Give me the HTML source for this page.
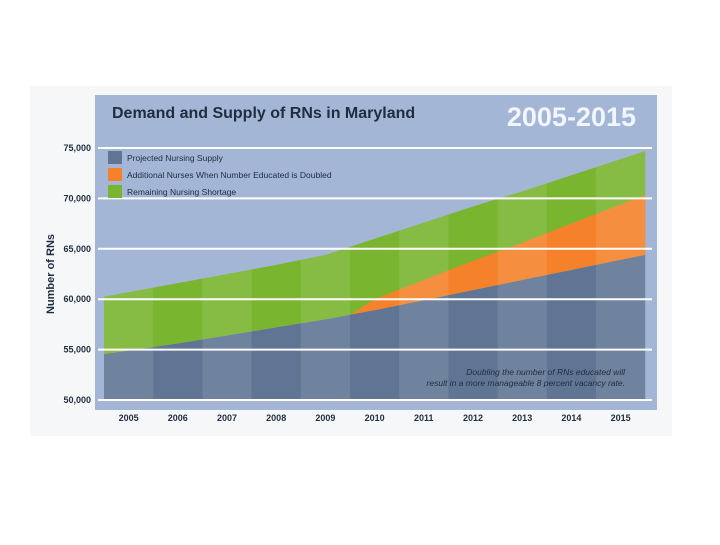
<!DOCTYPE html>
<html><head><meta charset="utf-8"><style>
body{margin:0;background:#fff;width:720px;height:540px;overflow:hidden;font-family:"Liberation Sans",sans-serif}
</style></head><body>
<svg width="720" height="540">
<rect x="30" y="86" width="642" height="350" fill="#f6f7f8"/>
<rect x="95" y="95" width="562" height="315" fill="#a4b6d6"/>
<text x="112" y="118" font-size="16" font-weight="bold" fill="#1f2d40">Demand and Supply of RNs in Maryland</text>
<text x="636" y="126" font-size="27" font-weight="bold" fill="#f2f5fb" text-anchor="end">2005-2015</text>
<text transform="translate(54,274) rotate(-90)" font-size="11" font-weight="bold" fill="#1f2d40" text-anchor="middle">Number of RNs</text>
<g id="grid"></g><g id="marks"></g><g id="stripes"></g><g id="gridtop"></g><g id="labels"></g>
<g>
<rect x="108" y="151" width="14" height="13" fill="#5f7593"/>
<text x="127" y="161" font-size="8.5" fill="#1f2d40">Projected Nursing Supply</text>
<rect x="108" y="168" width="14" height="13" fill="#f5822a"/>
<text x="127" y="178" font-size="8.5" fill="#1f2d40">Additional Nurses When Number Educated is Doubled</text>
<rect x="108" y="185" width="14" height="13" fill="#7ab52f"/>
<text x="127" y="195" font-size="8.5" fill="#1f2d40">Remaining Nursing Shortage</text>
</g>
<text x="625" y="375" font-size="8.5" font-style="italic" fill="#1f2d40" text-anchor="end">Doubling the number of RNs educated will</text>
<text x="625" y="386" font-size="8.5" font-style="italic" fill="#1f2d40" text-anchor="end">result in a more manageable 8 percent vacancy rate.</text>
</svg>
<script>
const years=[2005,2006,2007,2008,2009,2010,2011,2012,2013,2014,2015];
const supply=[54900,55600,56400,57200,58000,58900,59900,60900,61900,62900,63900];
const demand=[60700,61600,62500,63400,64400,66000,67600,69200,70700,72300,73900];
const doubled=[null,null,null,null,null,60000,61900,63800,65600,67500,69400];
const yTicks=[50000,55000,60000,65000,70000,75000];
const tickLabels=["50,000","55,000","60,000","65,000","70,000","75,000"];
const NS='http://www.w3.org/2000/svg';
const x0=104,colW=49.2;
const xs=i=>x0+colW*(i+0.5);
const ys=v=>400-(v-50000)*0.01008;
function mk(t,a,p){const e=document.createElementNS(NS,t);for(const k in a)e.setAttribute(k,a[k]);document.getElementById(p).appendChild(e);return e;}
function ext(arr){const n=arr.length;const l=arr[0]-(arr[1]-arr[0])/2, r=arr[n-1]+(arr[n-1]-arr[n-2])/2;
 const pts=[[x0,l]];arr.forEach((v,i)=>pts.push([xs(i),v]));pts.push([x0+colW*n,r]);return pts;}
const sp=ext(supply), dp=ext(demand);
const bottom=ys(50000);
const n=years.length;
let g=mk('polygon',{points:dp.map(p=>p[0]+','+ys(p[1])).join(' ')+' '+sp.slice().reverse().map(p=>p[0]+','+ys(p[1])).join(' '),fill:'#7ab52f'},'marks');


const first=doubled.findIndex(v=>v!==null);
const sx=xs(first)-colW*0.5, sv=(supply[first-1]+supply[first])/2;
const op=[[sx,sv]];doubled.forEach((v,i)=>{if(v!==null)op.push([xs(i),v]);});
op.push([x0+colW*n,doubled[n-1]+(doubled[n-1]-doubled[n-2])/2]);
const ob=sp.filter(p=>p[0]>sx);
let o=mk('polygon',{points:op.map(p=>p[0]+','+ys(p[1])).join(' ')+' '+ob.slice().reverse().map(p=>p[0]+','+ys(p[1])).join(' ')+' '+sx+','+ys(sv),fill:'#f5822a'},'marks');


let s=mk('polygon',{points:sp.map(p=>p[0]+','+ys(p[1])).join(' ')+' '+(x0+colW*n)+','+bottom+' '+x0+','+bottom,fill:'#5f7593'},'marks');


yTicks.forEach((v,i)=>{
 const l=mk('line',{x1:98,x2:652,y1:ys(v),y2:ys(v),stroke:'#fff','stroke-width':2},'gridtop');
 
 
 const t=mk('text',{x:91,y:ys(v)+3,'font-size':9,'font-weight':'bold',fill:'#1f2d40','text-anchor':'end'},'labels');
 t.textContent=tickLabels[i];
 
 
});
years.forEach((y,i)=>{
 if(i%2===0){const r=mk('rect',{x:x0+colW*i,y:ys(80000),width:colW,height:bottom-ys(80000),fill:'#fff','fill-opacity':0.1},'stripes');
 
 }
 const t=mk('text',{x:xs(i),y:421,'font-size':9,'font-weight':'bold',fill:'#1f2d40','text-anchor':'middle'},'labels');
 t.textContent=y;
 
 
});
const cp=document.createElementNS(NS,'clipPath');cp.id='cl';
const cpp=document.createElementNS(NS,'polygon');cpp.setAttribute('points',dp.map(p=>p[0]+','+ys(p[1])).join(' ')+' '+(x0+colW*n)+','+bottom+' '+x0+','+bottom);
cp.appendChild(cpp);document.querySelector('svg').appendChild(cp);
document.getElementById('stripes').setAttribute('clip-path','url(#cl)');
</script>
</body></html>
